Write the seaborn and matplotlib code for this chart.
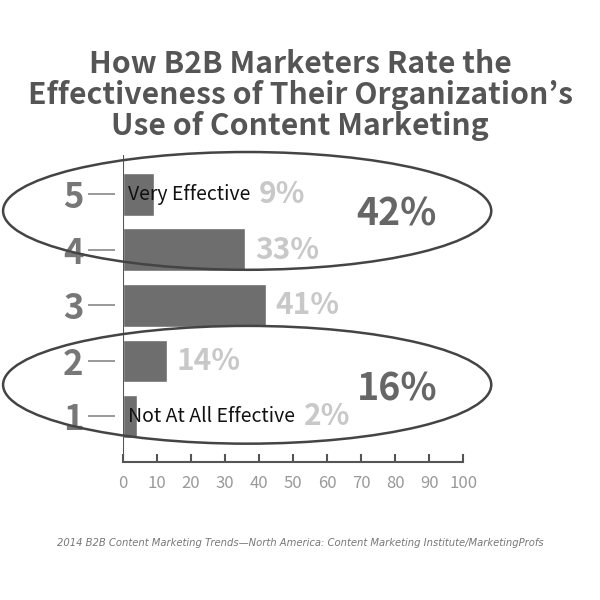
import matplotlib
matplotlib.use("Agg")
import matplotlib.pyplot as plt
from matplotlib.patches import Ellipse
import seaborn as sns
import pandas as pd

# ratings, top to bottom
ratings = ["5", "4", "3", "2", "1"]
bar_lengths = [9, 36, 42, 13, 4]          # as drawn in the picture
pct_labels = ["9%", "33%", "41%", "14%", "2%"]
end_notes = {"5": "Very Effective", "1": "Not At All Effective"}
groups = [("42%", ["5", "4"]), ("16%", ["2", "1"])]
x_ticks = list(range(0, 101, 10))

title = ("How B2B Marketers Rate the\n"
         "Effectiveness of Their Organization\u2019s\n"
         "Use of Content Marketing")
source = "2014 B2B Content Marketing Trends\u2014North America: Content Marketing Institute/MarketingProfs"

sns.set_theme(style="white")
FONT = ["Noto Sans CJK KR", "DejaVu Sans"]
plt.rcParams["font.family"] = FONT

df = pd.DataFrame({"rating": ratings, "value": bar_lengths})

fig = plt.figure(figsize=(6, 6), dpi=100)
ax = fig.add_axes([0.205, 0.23, 0.567, 0.512])

sns.barplot(data=df, x="value", y="rating", order=ratings, orient="h",
            color="#6e6e6e", saturation=1, width=0.77, ax=ax)

ax.set_xlim(0, 100)
ax.set_ylim(4.82, -0.71)
ax.set_xticks(x_ticks)
ax.set_xlabel("")
ax.set_ylabel("")

for s in ["top", "right"]:
    ax.spines[s].set_visible(False)
ax.spines["bottom"].set_color("#555555")
ax.spines["bottom"].set_linewidth(1.5)
# left spine pushed outward so the tick dashes float off the axis
ax.spines["left"].set_position(("outward", 6))
ax.spines["left"].set_color("none")
ax.axvline(0, color="#555555", lw=1.5, zorder=3)

ax.tick_params(axis="x", bottom=True, direction="in", length=6, width=1.5,
               color="#555555", labelsize=12, labelcolor="#999999", pad=9)
ax.tick_params(axis="y", left=True, direction="out", length=19.5, width=1.4,
               color="#999999", labelsize=25, labelcolor="#777777", pad=3)
for t in ax.get_yticklabels():
    t.set_fontweight("bold")

# percentage labels
for i, (r, v, lab) in enumerate(zip(ratings, bar_lengths, pct_labels)):
    kw = dict(fontsize=21.5, fontweight="bold", color="#c8c8c8", va="center", ha="left")
    if r in end_notes:
        note = ax.text(1.6, i, end_notes[r], fontsize=14, color="#111111",
                       va="center", ha="left", zorder=4)
        ax.annotate(lab, xy=(1, 0.5), xycoords=note, xytext=(6, 0),
                    textcoords="offset points", **kw)
    else:
        ax.annotate(lab, xy=(v, i), xytext=(7, 0), textcoords="offset points", **kw)

# grouping ellipses with totals
for (total, members), dy, ty in zip(groups, [-0.2, -0.07], [0.05, 0.07]):
    idx = [ratings.index(m) for m in members]
    cy = sum(idx) / len(idx) + dy
    ax.add_patch(Ellipse((36.5, cy), 143.5, 2.12, fill=False, ec="#444444",
                         lw=1.8, clip_on=False, zorder=5))
    ax.text(80.5, cy + ty, total, fontsize=27, fontweight="bold",
            color="#666666", ha="center", va="center")

fig.text(0.5, 0.842, title, ha="center", va="center", fontsize=21.7,
         fontweight="bold", color="#555555", linespacing=1.03)
fig.text(0.5, 0.095, source, ha="center", va="center", fontsize=7.2,
         style="italic", color="#777777", family=["DejaVu Sans"])

fig.savefig("out.png", dpi=100)
